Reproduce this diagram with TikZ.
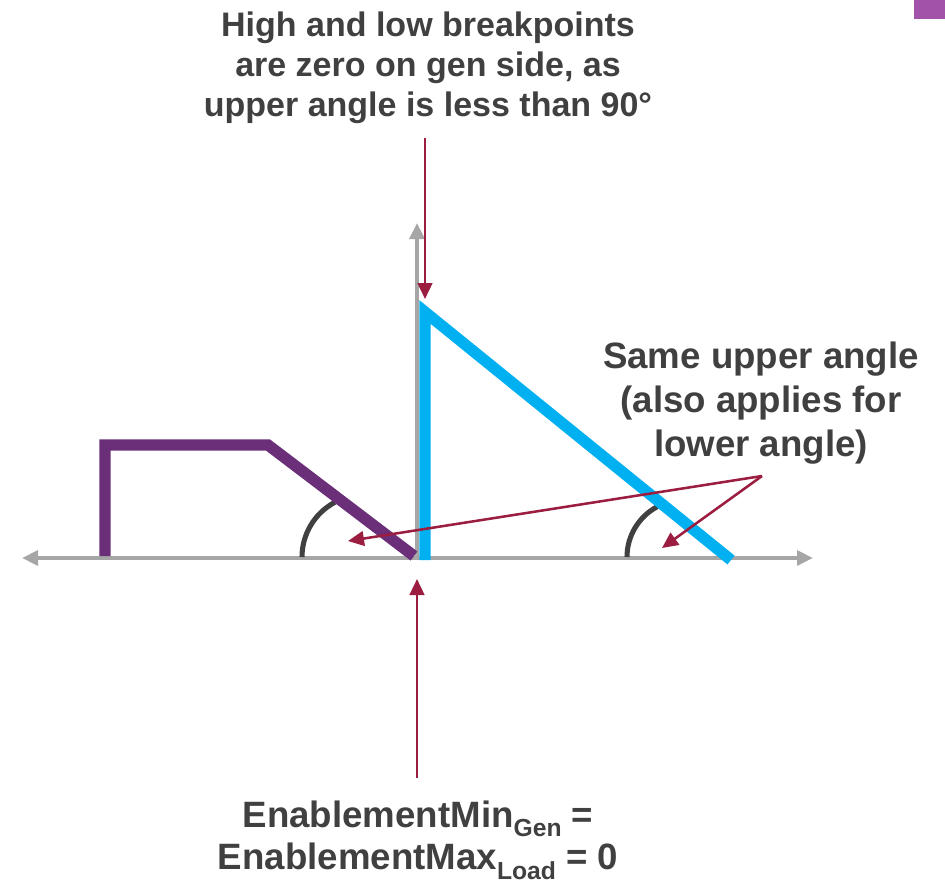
\documentclass[tikz,border=0pt]{standalone}
\usepackage{fontspec}
\setmainfont{Liberation Sans}
\usetikzlibrary{arrows.meta}
\definecolor{axisgray}{RGB}{166,166,166}
\definecolor{loadpurple}{RGB}{107,47,122}
\definecolor{genblue}{RGB}{0,176,240}
\definecolor{callred}{RGB}{155,29,64}
\definecolor{textgray}{RGB}{64,64,64}
\definecolor{cornerpurple}{RGB}{162,82,168}
\newcommand{\lowsub}[1]{\raisebox{-7pt}{\fontsize{18.5}{20}\selectfont #1}}
\tikzset{
  axis/.style     = {line width=3pt, color=axisgray},
  axtip/.tip      = {Triangle[length=12pt, width=11pt]},
  curve/.style    = {line width=8.5pt, miter limit=10},
  callout/.style  = {-{Triangle[length=12pt, width=11pt]}, line width=1.9pt, color=callred},
  anglearc/.style = {line width=3.8pt, color=textgray},
  note/.style     = {align=center, text=textgray, inner sep=0pt},
}

\begin{document}
\begin{tikzpicture}[x=0.75pt, y=-0.75pt]
\useasboundingbox (0,0) rectangle (945,879);

\fill[cornerpurple] (914,0) rectangle (945,19);

% axes
\coordinate (origin) at (417,558);
\coordinate (xleft)  at (22,558);
\coordinate (xright) at (813,558);
\coordinate (ytop)   at (417,223);
\draw[axis, axtip-axtip] (xleft) -- (xright);
\draw[axis, -axtip] (origin) -- (ytop);

% angle marks
\draw[anglearc] (302,557) arc[start angle=180, end angle=242, radius=62];
\draw[anglearc] (627,557) arc[start angle=180, end angle=242, radius=57];

% load and gen curves
\draw[curve, loadpurple] (105,556) -- (105,445) -- (268,445) -- (414,556);
\draw[curve, genblue] (425,560) -- (425,312) -- (731,560);

% notes
\node[note, font=\bfseries\fontsize{25.5}{30}\selectfont] (toptext) at (428,68)
  {High and low breakpoints\\are zero on gen side, as\\upper angle is less than 90°};
\node[note, font=\bfseries\fontsize{27.5}{33}\selectfont] (angletext) at (761,403)
  {Same upper angle\\(also applies for\\lower angle)};
\node[note, font=\bfseries\fontsize{27.5}{32}\selectfont] (zerotext) at (418,840)
  {EnablementMin\lowsub{Gen} =\\EnablementMax\lowsub{Load} = 0};

% callouts
\coordinate (peakfrom) at (425,138);
\coordinate (peakto)   at (425,299);
\coordinate (zerofrom) at (417,778);
\coordinate (zeroto)   at (417,579);
\coordinate (anglefrom) at (762,476);
\coordinate (leftangle) at (348,541);
\coordinate (rightangle) at (662,548);
\draw[callout] (peakfrom) -- (peakto);
\draw[callout] (zerofrom) -- (zeroto);
\draw[callout] (anglefrom) -- (leftangle);
\draw[callout] (anglefrom) -- (rightangle);

\end{tikzpicture}
\end{document}
